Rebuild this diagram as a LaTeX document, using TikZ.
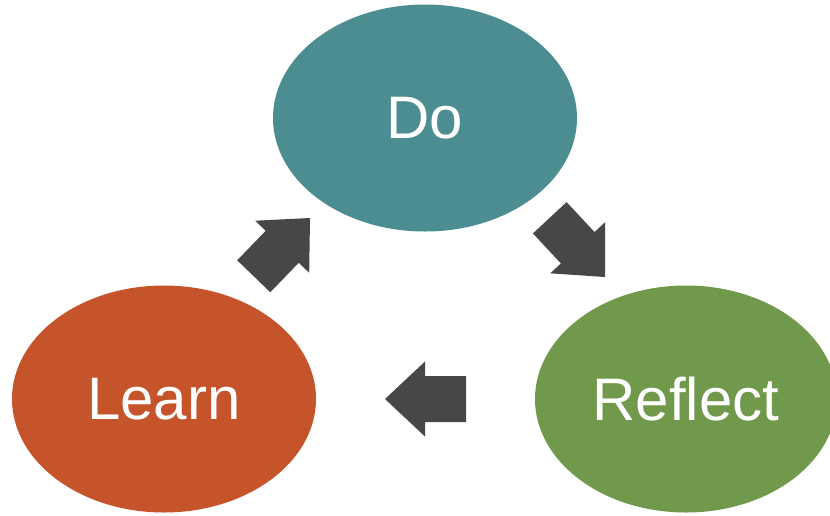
\documentclass[tikz,border=0pt]{standalone}
\usepackage{fontspec}
\setmainfont{Liberation Sans}
\usetikzlibrary{shapes.geometric}
\definecolor{doC}{HTML}{4B8D90}
\definecolor{learnC}{HTML}{C5542A}
\definecolor{reflectC}{HTML}{71994C}
\definecolor{arrC}{HTML}{474748}
\tikzset{
  bubble/.style={ellipse, inner sep=0pt, minimum width=304pt, minimum height=227pt,
    text=white, font=\fontsize{60}{60}\selectfont},
  blockarr/.style={fill=arrC, draw=none},
}
\begin{document}
\begin{tikzpicture}[x=1pt,y=-1pt]
\useasboundingbox (0,0) rectangle (830,515);
\begin{scope}
\clip (0,0) rectangle (830,515);
\node[bubble, fill=doC] (do) at (425,118) {Do};
\node[bubble, fill=learnC] (learn) at (164,399) {Learn};
\node[bubble, fill=reflectC, minimum width=302pt] (reflect) at (686,399) {Reflect};
\end{scope}
% block arrows: tip at origin, pointing +x (in y-down coordinates)
\def\arrowpath{(0,0) -- (-40,-37.5) -- (-40,-23) -- (-81,-23) -- (-81,23) -- (-40,23) -- (-40,37.5) -- cycle}
\fill[blockarr, shift={(310,218)}, rotate=46] \arrowpath;
\fill[blockarr, shift={(605,277)}, rotate=-47] \arrowpath;
\fill[blockarr, shift={(385,399)}, rotate=180] \arrowpath;
\end{tikzpicture}
\end{document}
